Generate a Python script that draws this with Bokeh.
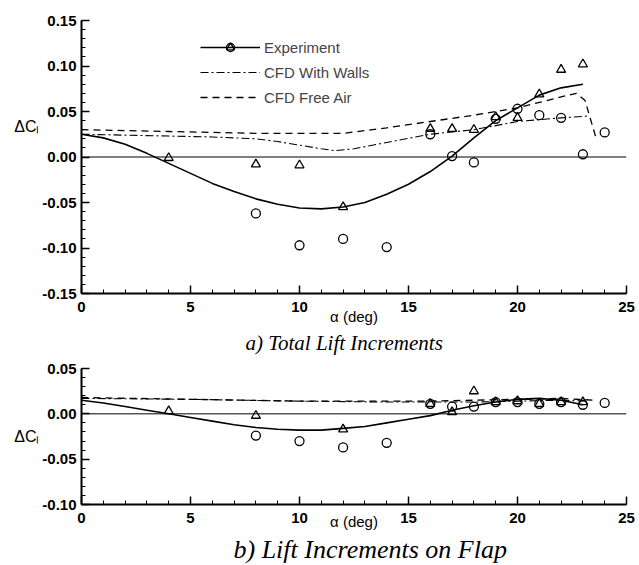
from bokeh.plotting import figure
from bokeh.models import (Span, Legend, LegendItem, NumeralTickFormatter,
                          FixedTicker, Range1d, Title, LinearAxis)
from bokeh.layouts import column
from bokeh.embed import file_html
from bokeh.resources import INLINE

# ---------------- data ----------------
x_ticks = [0, 5, 10, 15, 20, 25]
y_ticks_total = [-0.15, -0.10, -0.05, 0.00, 0.05, 0.10, 0.15]
y_ticks_flap = [-0.10, -0.05, 0.00, 0.05]

# a) total lift increments
circ_alpha_total = [8, 10, 12, 14, 16, 17, 18, 19, 20, 21, 22, 23, 24]
circ_dcl_total = [-0.062, -0.097, -0.090, -0.099, 0.025, 0.001, -0.006, 0.042,
                  0.053, 0.046, 0.043, 0.003, 0.027]
tri_alpha_total = [4, 8, 10, 12, 16, 17, 18, 19, 20, 21, 22, 23]
tri_dcl_total = [-0.001, -0.008, -0.009, -0.055, 0.031, 0.031, 0.030, 0.044,
                 0.043, 0.069, 0.096, 0.102]
fit_alpha = [0, 1, 2, 3, 4, 5, 6, 7, 8, 9, 10, 11, 12, 13, 14, 15, 16, 17, 18,
             19, 20, 21, 22, 23]
fit_dcl_total = [0.025, 0.021, 0.014, 0.004, -0.007, -0.018, -0.029, -0.038,
                 -0.046, -0.052, -0.056, -0.057, -0.055, -0.050, -0.041, -0.030,
                 -0.016, 0.001, 0.021, 0.040, 0.054, 0.068, 0.076, 0.080]
walls_alpha_total = [0, 2, 4, 6, 8, 9, 10, 11, 11.6, 12.5, 14, 16, 18, 20, 22, 23.2]
walls_dcl_total = [0.025, 0.024, 0.023, 0.022, 0.020, 0.017, 0.013, 0.009, 0.007,
                   0.009, 0.016, 0.025, 0.030, 0.039, 0.043, 0.045]
free_alpha_total = [0, 4, 8, 12, 14, 16, 18, 20, 22, 22.7, 23.1, 23.6]
free_dcl_total = [0.030, 0.028, 0.026, 0.026, 0.032, 0.039, 0.046, 0.054, 0.066,
                  0.070, 0.062, 0.021]

# b) lift increments on flap
circ_alpha_flap = [8, 10, 12, 14, 16, 17, 18, 19, 20, 21, 22, 23, 24]
circ_dcl_flap = [-0.024, -0.030, -0.037, -0.032, 0.011, 0.008, 0.008, 0.013,
                 0.013, 0.011, 0.013, 0.010, 0.012]
tri_alpha_flap = [4, 8, 12, 16, 17, 18, 19, 20, 21, 22, 23]
tri_dcl_flap = [0.003, -0.002, -0.017, 0.011, 0.002, 0.025, 0.013, 0.014, 0.011,
                0.013, 0.013]
fit_dcl_flap = [0.015, 0.012, 0.008, 0.004, 0.000, -0.004, -0.008, -0.012, -0.015,
                -0.017, -0.018, -0.018, -0.016, -0.014, -0.010, -0.006, -0.002,
                0.004, 0.009, 0.013, 0.016, 0.017, 0.015, 0.010]
walls_alpha_flap = [0, 5, 10, 14, 16, 18, 20, 22, 23.2]
walls_dcl_flap = [0.017, 0.016, 0.014, 0.013, 0.013, 0.013, 0.014, 0.015, 0.014]
free_alpha_flap = [0, 5, 10, 14, 16, 18, 20, 22, 23.5]
free_dcl_flap = [0.018, 0.016, 0.014, 0.014, 0.014, 0.015, 0.016, 0.017, 0.015]

SANS = "Liberation Sans"
SERIF = "Liberation Serif"


def make_panel(y_lo, y_hi, y_ticks, frame_h, top_border, bottom_border, xlabel_standoff):
    p = figure(width=639, frame_width=545, frame_height=frame_h,
               x_range=Range1d(0, 25), y_range=Range1d(y_lo, y_hi),
               output_backend="svg", toolbar_location=None,
               min_border_left=81, min_border_right=13,
               min_border_top=top_border, min_border_bottom=bottom_border)
    p.outline_line_color = None
    p.xgrid.visible = False
    p.ygrid.visible = False
    p.background_fill_color = "white"
    p.border_fill_color = "white"

    n_minor = int(round((y_hi - y_lo) / 0.01))
    minor_y = [round(y_lo + 0.01 * i, 3) for i in range(n_minor + 1)]
    p.xaxis.ticker = FixedTicker(ticks=x_ticks, minor_ticks=list(range(0, 26)))
    p.yaxis.ticker = FixedTicker(ticks=y_ticks, minor_ticks=minor_y)
    p.yaxis.formatter = NumeralTickFormatter(format="0.00")
    for ax in (p.xaxis, p.yaxis):
        ax.axis_line_width = 2
        ax.axis_line_color = "black"
        ax.major_tick_in = 8
        ax.major_tick_out = 0
        ax.minor_tick_in = 4
        ax.minor_tick_out = 0
        ax.major_tick_line_width = 1.5
        ax.minor_tick_line_width = 1
        ax.major_label_text_font = SANS
        ax.major_label_text_font_size = "15px"
        ax.major_label_text_font_style = "bold"
        ax.major_label_text_color = "black"
    p.xaxis.major_label_standoff = 8
    p.yaxis.major_label_standoff = 5

    p.xaxis.axis_label = "α (deg)"
    p.xaxis.axis_label_text_font = SANS
    p.xaxis.axis_label_text_font_size = "15px"
    p.xaxis.axis_label_text_font_style = "normal"
    p.xaxis.axis_label_text_color = "black"
    p.xaxis.axis_label_standoff = xlabel_standoff

    p.add_layout(Span(location=0, dimension="width", line_color="black", line_width=1))
    return p


def add_ylabel(p, text):
    # bare outer axis whose only visible part is the horizontal ΔC label
    ax = LinearAxis(ticker=FixedTicker(ticks=[]),
                    axis_line_color=None, major_tick_line_color=None,
                    minor_tick_line_color=None, major_label_text_font_size="0px",
                    axis_label=text, axis_label_orientation="horizontal",
                    axis_label_standoff=0, axis_label_text_font=SANS,
                    axis_label_text_font_size="16px",
                    axis_label_text_font_style="normal",
                    axis_label_text_color="black")
    p.add_layout(ax, "left")


def add_series(p, circ_a, circ_v, tri_a, tri_v, fit_v, walls_a, walls_v, free_a, free_v):
    r_free = p.line(free_a, free_v, line_color="black", line_width=1.3, line_dash="7 5")
    r_walls = p.line(walls_a, walls_v, line_color="black", line_width=1.1,
                     line_dash="8 3 2 3")
    r_fit = p.line(fit_alpha, fit_v, line_color="black", line_width=1.6)
    r_circ = p.scatter(circ_a, circ_v, marker="circle", size=9, fill_color=None,
                       line_color="black", line_width=1.3)
    r_tri = p.scatter(tri_a, tri_v, marker="triangle", size=9, fill_color=None,
                      line_color="black", line_width=1.3)
    return r_fit, r_circ, r_tri, r_walls, r_free


def add_caption(p, text, offset, size, standoff):
    p.add_layout(Title(text=text, align="left", offset=offset, standoff=standoff,
                       text_font=SERIF, text_font_style="italic",
                       text_font_size=size, text_color="black"), "below")


# ---------------- a) total lift increments ----------------
top = make_panel(-0.15, 0.15, y_ticks_total, 273, 20, 65, -7)
r_fit, r_circ, r_tri, r_walls, r_free = add_series(
    top, circ_alpha_total, circ_dcl_total, tri_alpha_total, tri_dcl_total,
    fit_dcl_total, walls_alpha_total, walls_dcl_total, free_alpha_total, free_dcl_total)

legend = Legend(items=[
    LegendItem(label="Experiment", renderers=[r_fit, r_circ, r_tri]),
    LegendItem(label="CFD With Walls", renderers=[r_walls]),
    LegendItem(label="CFD Free Air", renderers=[r_free]),
], location=(119, 186), glyph_width=60, glyph_height=20, label_height=20,
    spacing=5, padding=0, margin=0, label_standoff=4,
    label_text_font=SANS, label_text_font_size="15px",
    border_line_color=None, background_fill_alpha=0)
top.add_layout(legend)
add_caption(top, "a)  Total Lift Increments", 164, "21px", 3)
# the label sits above the panel's mid-height, so it is followed by blank lines
add_ylabel(top, "ΔCₗ\n\n\n")

# ---------------- b) lift increments on flap ----------------
bot = make_panel(-0.10, 0.05, y_ticks_flap, 136, 10, 61, -13)
add_series(bot, circ_alpha_flap, circ_dcl_flap, tri_alpha_flap, tri_dcl_flap,
           fit_dcl_flap, walls_alpha_flap, walls_dcl_flap, free_alpha_flap, free_dcl_flap)
add_caption(bot, "b)  Lift Increments on Flap", 152, "26px", 0)
add_ylabel(bot, "ΔCₗ")

layout = column(top, bot, spacing=0)
open("out.html", "w").write(file_html(layout, INLINE))
